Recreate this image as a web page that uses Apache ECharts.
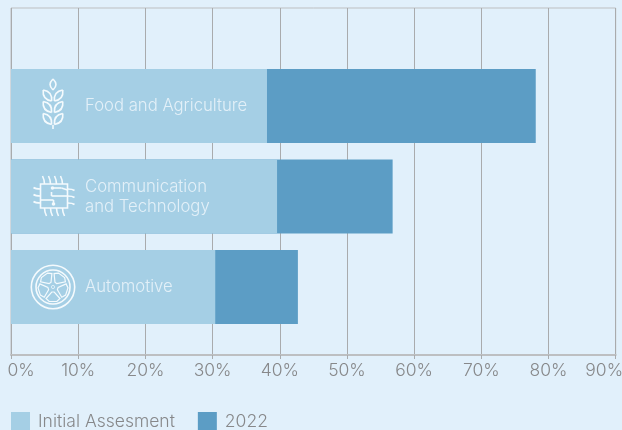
<!DOCTYPE html>
<html>
<head>
<meta charset="utf-8">
<style>html,body{margin:0;padding:0;background:#e1f0fb;overflow:hidden}#c{width:622px;height:430px}</style>
<script src="https://cdn.jsdelivr.net/npm/echarts@6/dist/echarts.min.js"></script>
</head>
<body>
<div id="c"></div>
<script>
// Chart data
const sectors = ['Food and Agriculture', 'Communication\nand Technology', 'Automotive'];
const initialAssessment = [38.1, 39.6, 30.4];
const year2022 = [78.1, 56.8, 42.7];
const seriesNames = ['Initial Assesment', '2022'];
const tickStep = 10;
const axisMax = 90;

const FONT = 'Inter';
const INK = '#e3f0f8';
const GREY = '#87888a';
const iconStyle = { stroke: '#f4fafd', lineWidth: 1.6, fill: 'none' };
const thinIconStyle = { stroke: '#f4fafd', lineWidth: 1.2, fill: 'none' };

// Icon helpers: each icon is a graphic group centred on its own origin
function curve(x1, y1, cx1, cy1, cx2, cy2, x2, y2) {
  return { type: 'bezierCurve', z: 10, shape: { x1, y1, cpx1: cx1, cpy1: cy1, cpx2: cx2, cpy2: cy2, x2, y2 }, style: iconStyle };
}
function line(x1, y1, x2, y2) {
  return { type: 'line', z: 10, shape: { x1, y1, x2, y2 }, style: iconStyle };
}
function dot(cx, cy, r) {
  return { type: 'circle', z: 10, shape: { cx, cy, r }, style: { fill: '#f4fafd' } };
}
function leaf(bx, by, tx, ty, bulge) {
  const mx = (bx + tx) / 2, my = (by + ty) / 2;
  const dx = tx - bx, dy = ty - by;
  const nx = -dy * bulge, ny = dx * bulge;
  return [
    curve(bx, by, mx + nx - dx * .15, my + ny - dy * .15, mx + nx + dx * .15, my + ny + dy * .15, tx, ty),
    curve(bx, by, mx - nx - dx * .15, my - ny - dy * .15, mx - nx + dx * .15, my - ny + dy * .15, tx, ty)
  ];
}
function wheatIcon(x, y) {
  let kids = leaf(0, -14, 0, -25, .36);
  [-8.5, 3, 15].forEach(function (oy) {
    kids = kids.concat(leaf(1.4, oy + 5.5, 9.8, oy - 5.5, .33));
    kids = kids.concat(leaf(-1.4, oy + 5.5, -9.8, oy - 5.5, .33));
  });
  kids.push(line(0, 21, 0, 25));
  return { type: 'group', x, y, children: kids };
}
function chipIcon(x, y) {
  const kids = [
    { type: 'rect', z: 10, shape: { x: -13, y: -12, width: 27, height: 24 }, style: iconStyle }
  ];
  [-9, -3, 3, 9].forEach(function (px) {
    kids.push(curve(px - 2, -20, px - 1, -18, px, -16, px, -12));
    kids.push(curve(px + 2, 20, px + 1, 18, px, 16, px, 12));
  });
  [-7, 0, 7].forEach(function (py) {
    kids.push(curve(-20, py - 1.5, -18, py, -16, py, -13, py));
    kids.push(curve(21, py + 1.5, 19, py, 17, py, 14, py));
  });
  kids.push(dot(-1, -8, 1.8), line(-1, -8, 8, -8), line(8, -8, 14, -6));
  kids.push(line(14, 0, -2, 0), line(-2, 0, -2, -4));
  kids.push(line(-13, 4, 0, 4), dot(0, 8, 1.8), line(0, 4, 0, 8));
  return { type: 'group', x, y, children: kids };
}
function wheelIcon(x, y) {
  const kids = [
    { type: 'circle', z: 10, shape: { cx: 0, cy: 0, r: 21.7 }, style: iconStyle },
    { type: 'circle', z: 10, shape: { cx: 0, cy: 0, r: 17 }, style: iconStyle },
    { type: 'circle', z: 10, shape: { cx: 0, cy: 0, r: 1.6 }, style: { stroke: '#f4fafd', lineWidth: .7, fill: 'none' } }
  ];
  for (let i = 0; i < 5; i++) {
    kids.push({
      type: 'polygon', z: 10,
      rotation: -i * 2 * Math.PI / 5,
      shape: { points: [[-1.2, 5], [1.2, 5], [7, 11.5], [3.8, 14.5], [-3.8, 14.5], [-7, 11.5]] },
      style: thinIconStyle
    });
  }
  return { type: 'group', x, y, children: kids };
}

const tickFormatter = function (v) {
  if (v === 0) return '{first|' + v + '%}';
  if (v === axisMax) return '{last|' + v + '%}';
  return v + '%';
};

const tickText = { color: GREY, fontSize: 17.5, fontFamily: FONT, fontWeight: 300 };

const chart = echarts.init(document.getElementById('c'), null, { renderer: 'canvas' });
chart.setOption({
  backgroundColor: '#e1f0fb',
  animation: false,
  legend: {
    left: 11, top: 412, padding: 0, itemWidth: 19, itemHeight: 19, itemGap: 23,
    data: seriesNames, icon: 'rect',
    textStyle: Object.assign({}, tickText, { padding: [2, 0, 0, 3] })
  },
  grid: [
    { left: 11, width: 604.7, top: 8, height: 347, outerBoundsMode: 'none', show: true, borderColor: '#bdbfc1', borderWidth: 1, backgroundColor: 'transparent' },
    { left: 11, width: 604.7, top: 60.75, height: 271.5, outerBoundsMode: 'none' }
  ],
  xAxis: [
    {
      gridIndex: 0, type: 'value', min: 0, max: axisMax, interval: tickStep,
      axisLine: { show: true, lineStyle: { color: '#bdbfc1', width: 2 } },
      axisTick: { show: true, length: 4, lineStyle: { color: '#a9abad', width: 1 } },
      splitLine: { show: true, lineStyle: { color: '#a9abad', width: 1 } },
      axisLabel: Object.assign({}, tickText, {
        margin: 7,
        formatter: tickFormatter,
        hideOverlap: false,
        rich: {
          first: Object.assign({}, tickText, { padding: [0, 0, 0, 20] }),
          last: Object.assign({}, tickText, { padding: [0, 23, 0, 0] })
        }
      })
    },
    { gridIndex: 1, type: 'value', min: 0, max: axisMax, interval: tickStep, show: false, splitLine: { show: false } }
  ],
  yAxis: [
    { gridIndex: 0, type: 'value', show: false, splitLine: { show: false } },
    { gridIndex: 1, type: 'category', data: sectors, inverse: true, show: false }
  ],
  series: [
    {
      name: seriesNames[1], type: 'bar', xAxisIndex: 1, yAxisIndex: 1,
      data: year2022, barWidth: 74, barGap: '-100%', z: 2,
      itemStyle: { color: '#5c9dc5' }
    },
    {
      name: seriesNames[0], type: 'bar', xAxisIndex: 1, yAxisIndex: 1,
      data: initialAssessment, barWidth: 74, barGap: '-100%', z: 3,
      itemStyle: { color: '#a5cfe5' },
      label: {
        show: true, position: 'insideLeft', distance: 74, formatter: '{b}',
        color: INK, fontSize: 16.7, lineHeight: 20, fontFamily: FONT, fontWeight: 300, align: 'left'
      }
    }
  ],
  graphic: {
    elements: [wheatIcon(53, 104), chipIcon(53.5, 196), wheelIcon(53, 287)]
  }
});
</script>
</body>
</html>
